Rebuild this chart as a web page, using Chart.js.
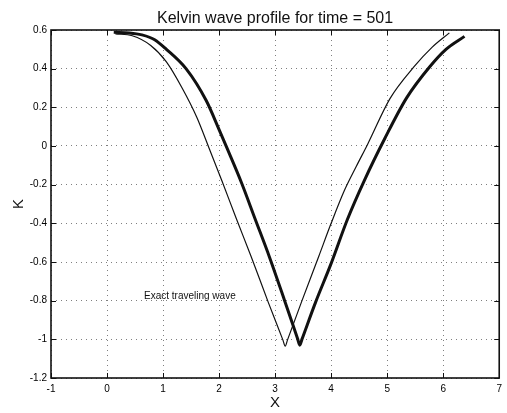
<!DOCTYPE html>
<html>
<head>
<meta charset="utf-8">
<script src="https://cdn.jsdelivr.net/npm/chart.js@4.4.1/dist/chart.umd.min.js"></script>
<style>
  html, body { margin: 0; padding: 0; background: #fff; }
</style>
</head>
<body>
<canvas id="kelvin" width="507" height="413"></canvas>
<script>
// Kelvin wave profile: computed K (thick) against the exact traveling wave (thin)
var exactX = [0.15, 0.45, 0.78, 1.06, 1.34, 1.60, 1.82, 2.05, 2.30, 2.57, 2.88, 3.14, 3.18, 3.22, 3.48, 3.78, 4.00, 4.24, 4.45, 4.65, 5.05, 5.48, 5.80, 6.11];
var exactK = [0.580, 0.570, 0.520, 0.435, 0.300, 0.150, -0.010, -0.180, -0.370, -0.570, -0.810, -1.004, -1.035, -1.004, -0.800, -0.570, -0.400, -0.228, -0.105, 0.008, 0.245, 0.410, 0.510, 0.585];

var numX = [0.12, 0.40, 0.62, 0.85, 1.06, 1.41, 1.77, 2.00, 2.14, 2.40, 2.64, 2.90, 3.17, 3.40, 3.44, 3.48, 3.72, 3.99, 4.29, 4.59, 4.96, 5.35, 5.76, 6.05, 6.38];
var numK = [0.588, 0.585, 0.575, 0.550, 0.500, 0.400, 0.235, 0.085, -0.010, -0.190, -0.375, -0.575, -0.800, -0.996, -1.030, -0.999, -0.810, -0.615, -0.380, -0.180, 0.040, 0.250, 0.410, 0.500, 0.567];

var xTicks = [-1, 0, 1, 2, 3, 4, 5, 6, 7];
var kTicks = [0.6, 0.4, 0.2, 0, -0.2, -0.4, -0.6, -0.8, -1, -1.2];

var titleText = 'Kelvin wave profile for time = 501';
var exactLabel = 'Exact traveling wave';
var exactLabelAt = [0.66, -0.775];

var FONT = '"Liberation Sans", Arial, Helvetica, sans-serif';

function pts(xs, ys) {
    return xs.map(function (x, i) { return { x: x, y: ys[i] }; });
}

// closed box with inward ticks, plus the text annotation
var boxPlugin = {
    id: 'boxPlugin',
    afterDatasetsDraw: function (chart) {
        var a = chart.chartArea, ctx = chart.ctx;
        var sx = chart.scales.x, sy = chart.scales.y;
        ctx.save();
        ctx.strokeStyle = '#111';
        ctx.lineWidth = 1;
        ctx.beginPath();
        xTicks.forEach(function (v) {
            var px = Math.round(sx.getPixelForValue(v)) + 0.5;
            ctx.moveTo(px, a.bottom); ctx.lineTo(px, a.bottom - 5);
            ctx.moveTo(px, a.top); ctx.lineTo(px, a.top + 5);
        });
        kTicks.forEach(function (v) {
            var py = Math.round(sy.getPixelForValue(v)) + 0.5;
            ctx.moveTo(a.left, py); ctx.lineTo(a.left + 5, py);
            ctx.moveTo(a.right, py); ctx.lineTo(a.right - 5, py);
        });
        ctx.stroke();
        ctx.lineWidth = 1.6;
        ctx.strokeRect(a.left, a.top, a.right - a.left, a.bottom - a.top);

        ctx.font = '10px ' + FONT;
        ctx.fillStyle = '#111';
        ctx.textAlign = 'left';
        ctx.textBaseline = 'middle';
        ctx.fillText(exactLabel, sx.getPixelForValue(exactLabelAt[0]), sy.getPixelForValue(exactLabelAt[1]));
        ctx.restore();
    }
};

new Chart(document.getElementById('kelvin'), {
    type: 'line',
    data: {
        datasets: [
            { label: 'exact', data: pts(exactX, exactK), borderColor: '#111', borderWidth: 1.2, pointRadius: 0, cubicInterpolationMode: 'monotone', fill: false },
            { label: 'computed', data: pts(numX, numK), borderColor: '#111', borderWidth: 3, pointRadius: 0, cubicInterpolationMode: 'monotone', fill: false }
        ]
    },
    options: {
        responsive: false,
        animation: false,
        devicePixelRatio: 1,
        layout: { padding: { right: 4, left: 0, top: 0, bottom: 0 } },
        plugins: {
            legend: { display: false },
            tooltip: { enabled: false },
            title: {
                display: true,
                text: titleText,
                fullSize: false,
                color: '#111',
                font: { family: FONT, size: 16, weight: 'normal' },
                padding: { top: 9, bottom: 1.8 }
            }
        },
        scales: {
            x: {
                type: 'linear',
                min: -1, max: 7,
                afterBuildTicks: function (s) { s.ticks = xTicks.map(function (v) { return { value: v }; }); },
                afterFit: function (s) { s.height = 35; },
                ticks: {
                    autoSkip: false, maxRotation: 0, padding: 5, color: '#000',
                    font: { family: FONT, size: 10 },
                    callback: function (v) { return String(v); }
                },
                grid: { drawTicks: false, color: 'rgba(0,0,0,0.5)', lineWidth: 1 },
                border: { display: false, dash: [1, 4] },
                title: { display: true, text: 'X', color: '#111', font: { family: FONT, size: 15 }, padding: { top: 0, bottom: 1 } }
            },
            y: {
                type: 'linear',
                min: -1.2, max: 0.6,
                afterBuildTicks: function (s) { s.ticks = kTicks.map(function (v) { return { value: v }; }); },
                afterFit: function (s) { s.width = 51; },
                ticks: {
                    padding: 4, color: '#000',
                    font: { family: FONT, size: 10 },
                    callback: function (v) { return String(Number(v.toFixed(1))); }
                },
                grid: { drawTicks: false, color: 'rgba(0,0,0,0.5)', lineWidth: 1 },
                border: { display: false, dash: [1, 4] },
                title: { display: true, text: 'K', color: '#111', font: { family: FONT, size: 15 }, padding: { top: 10, bottom: 0 } }
            }
        }
    },
    plugins: [boxPlugin]
});
</script>
</body>
</html>
